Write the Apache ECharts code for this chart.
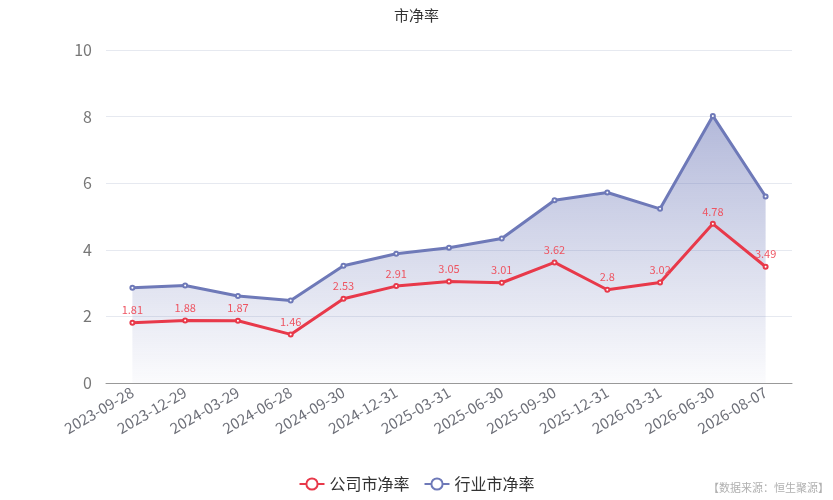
<!DOCTYPE html>
<html><head><meta charset="utf-8">
<script src="https://cdn.jsdelivr.net/npm/echarts@6/dist/echarts.min.js"></script>
<style>html,body{margin:0;padding:0;background:#fff}#c{width:833px;height:500px}</style>
</head><body><div id="c"></div>
<script>
var categories = ['2023-09-28','2023-12-29','2024-03-29','2024-06-28','2024-09-30','2024-12-31','2025-03-31','2025-06-30','2025-09-30','2025-12-31','2026-03-31','2026-06-30','2026-08-07'];
var companyPB = [1.81,1.88,1.87,1.46,2.53,2.91,3.05,3.01,3.62,2.8,3.02,4.78,3.49];
var industryPB = [2.86,2.93,2.61,2.48,3.52,3.88,4.06,4.34,5.49,5.72,5.23,8.02,5.60];
var seriesNames = ['公司市净率','行业市净率'];
var font = '"Noto Sans CJK SC","Noto Sans",sans-serif';
var chart = echarts.init(document.getElementById('c'));
chart.setOption({
  animation:false,
  textStyle:{fontFamily:font},
  title:{text:'市净率',left:'center',top:3,textStyle:{fontSize:15,fontWeight:'normal',color:'#333',fontFamily:font}},
  grid:{left:106,right:41,top:50,bottom:117},
  legend:{bottom:3,left:'center',itemGap:14,itemWidth:25,itemHeight:14,textStyle:{fontSize:16,color:'#333',fontFamily:font},data:seriesNames},
  graphic:[{type:'text',right:4,bottom:7,style:{text:'【数据来源：恒生聚源】',fill:'#b0b0b0',fontSize:11,fontFamily:font}}],
  xAxis:{type:'category',data:categories,boundaryGap:true,
    axisLine:{lineStyle:{color:'#999'}},axisTick:{lineStyle:{color:'#999'}},
    axisLabel:{rotate:30,fontSize:15,color:'#6e7079',margin:8,interval:0,fontFamily:font}},
  yAxis:{type:'value',min:0,max:10,interval:2,
    axisLabel:{fontSize:16,color:'#777',margin:14,fontFamily:font},
    splitLine:{lineStyle:{color:'#e6e9f0'}}},
  series:[
    {name:seriesNames[0],type:'line',data:companyPB,symbol:'emptyCircle',symbolSize:4,
     itemStyle:{color:'#e8394a'},
     lineStyle:{width:3,color:'#e8394a'},
     label:{show:true,position:'top',color:'#ee5562',fontSize:11,distance:4,fontFamily:font},z:3},
    {name:seriesNames[1],type:'line',data:industryPB,symbol:'emptyCircle',symbolSize:4,
     itemStyle:{color:'#6e79b8'},
     lineStyle:{width:3,color:'#6e79b8'},
     areaStyle:{color:new echarts.graphic.LinearGradient(0,0,0,1,[{offset:0,color:'rgba(110,121,184,0.75)'},{offset:1,color:'rgba(110,121,184,0.04)'}])},z:2}
  ]
});
</script></body></html>
